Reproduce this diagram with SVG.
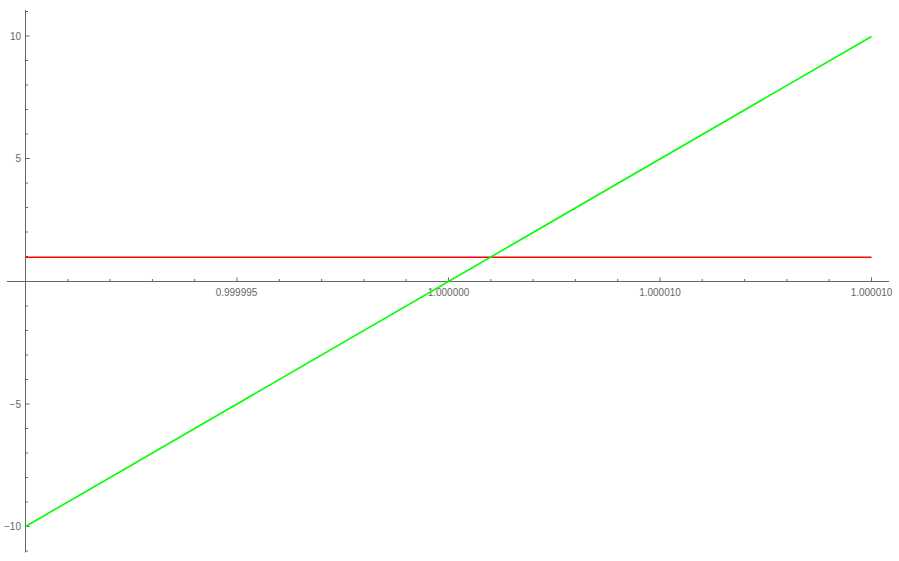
<svg xmlns="http://www.w3.org/2000/svg" width="899" height="561" viewBox="0 0 899 561">
<style>
.ax{stroke:#666;stroke-width:1;fill:none}
.tk{stroke:#666;stroke-width:1}
.lbl{font-family:"Liberation Sans",Arial,sans-serif;font-size:10px;fill:#666}
</style>
<rect width="899" height="561" fill="#fff"/>
<g id="axes">
<line class="ax" x1="7" y1="281.5" x2="889" y2="281.5"/>
<line class="ax" x1="25.5" y1="10" x2="25.5" y2="552.5"/>
<g id="xticks">
<line class="tk" x1="67.8" y1="281.5" x2="67.8" y2="279"/>
<line class="tk" x1="110.1" y1="281.5" x2="110.1" y2="279"/>
<line class="tk" x1="152.4" y1="281.5" x2="152.4" y2="279"/>
<line class="tk" x1="194.7" y1="281.5" x2="194.7" y2="279"/>
<line class="tk" x1="237" y1="281.5" x2="237" y2="277.5"/>
<line class="tk" x1="279.3" y1="281.5" x2="279.3" y2="279"/>
<line class="tk" x1="321.6" y1="281.5" x2="321.6" y2="279"/>
<line class="tk" x1="363.9" y1="281.5" x2="363.9" y2="279"/>
<line class="tk" x1="406.2" y1="281.5" x2="406.2" y2="279"/>
<line class="tk" x1="448.5" y1="281.5" x2="448.5" y2="277.5"/>
<line class="tk" x1="490.8" y1="281.5" x2="490.8" y2="279"/>
<line class="tk" x1="533.1" y1="281.5" x2="533.1" y2="279"/>
<line class="tk" x1="575.4" y1="281.5" x2="575.4" y2="279"/>
<line class="tk" x1="617.7" y1="281.5" x2="617.7" y2="279"/>
<line class="tk" x1="660" y1="281.5" x2="660" y2="277.5"/>
<line class="tk" x1="702.3" y1="281.5" x2="702.3" y2="279"/>
<line class="tk" x1="744.6" y1="281.5" x2="744.6" y2="279"/>
<line class="tk" x1="786.9" y1="281.5" x2="786.9" y2="279"/>
<line class="tk" x1="829.2" y1="281.5" x2="829.2" y2="279"/>
<line class="tk" x1="871.5" y1="281.5" x2="871.5" y2="277.5"/>
</g>
<g id="yticks">
<line class="tk" x1="25.5" y1="11.5" x2="28" y2="11.5"/>
<line class="tk" x1="25.5" y1="36" x2="29.5" y2="36"/>
<line class="tk" x1="25.5" y1="60.5" x2="28" y2="60.5"/>
<line class="tk" x1="25.5" y1="85" x2="28" y2="85"/>
<line class="tk" x1="25.5" y1="109.5" x2="28" y2="109.5"/>
<line class="tk" x1="25.5" y1="134" x2="28" y2="134"/>
<line class="tk" x1="25.5" y1="158.5" x2="29.5" y2="158.5"/>
<line class="tk" x1="25.5" y1="183" x2="28" y2="183"/>
<line class="tk" x1="25.5" y1="207.5" x2="28" y2="207.5"/>
<line class="tk" x1="25.5" y1="232" x2="28" y2="232"/>
<line class="tk" x1="25.5" y1="256.5" x2="28" y2="256.5"/>
<line class="tk" x1="25.5" y1="306" x2="28" y2="306"/>
<line class="tk" x1="25.5" y1="330.5" x2="28" y2="330.5"/>
<line class="tk" x1="25.5" y1="355" x2="28" y2="355"/>
<line class="tk" x1="25.5" y1="379.5" x2="28" y2="379.5"/>
<line class="tk" x1="25.5" y1="404" x2="29.5" y2="404"/>
<line class="tk" x1="25.5" y1="428.5" x2="28" y2="428.5"/>
<line class="tk" x1="25.5" y1="453" x2="28" y2="453"/>
<line class="tk" x1="25.5" y1="477.5" x2="28" y2="477.5"/>
<line class="tk" x1="25.5" y1="502" x2="28" y2="502"/>
<line class="tk" x1="25.5" y1="526.5" x2="29.5" y2="526.5"/>
<line class="tk" x1="25.5" y1="551" x2="28" y2="551"/>
</g>
<g id="xlabels" class="lbl" text-anchor="middle">
<text x="236.5" y="295.5">0.999995</text>
<text x="448.5" y="295.5">1.000000</text>
<text x="660" y="295.5">1.000010</text>
<text x="871.5" y="295.5">1.000010</text>
</g>
<g id="ylabels" class="lbl" text-anchor="end">
<text x="21" y="39.5">10</text>
<text x="21" y="162">5</text>
<text x="21" y="407.5">−5</text>
<text x="21" y="530">−10</text>
</g>
</g>
<g id="curves">
<line x1="25.5" y1="257.2" x2="871.5" y2="257.2" stroke="#f00" stroke-width="1.6"/>
<line x1="25.5" y1="526.5" x2="871.5" y2="36.5" stroke="#0f0" stroke-width="1.6"/>
</g>
</svg>
